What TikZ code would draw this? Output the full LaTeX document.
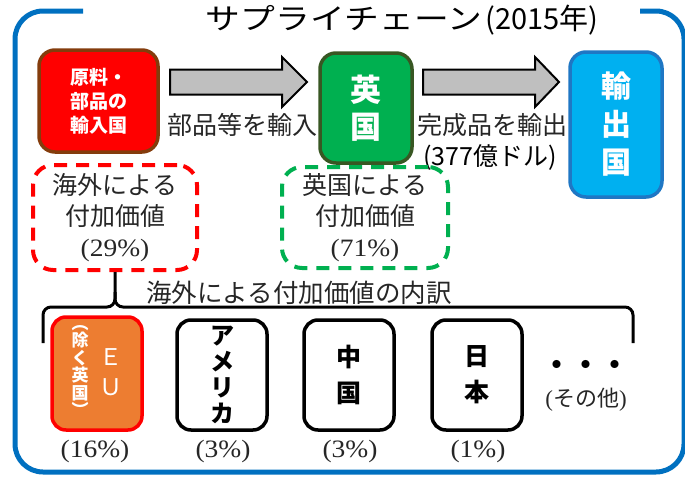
\documentclass[tikz,border=0pt]{standalone}
\usepackage{fontspec}
\usepackage{graphicx}
\newfontfamily\jp{Noto Sans CJK JP}
\newfontfamily\pcfont{Liberation Serif}
\usetikzlibrary{calc}
\definecolor{framec}{HTML}{0070C0}
\definecolor{redfill}{HTML}{FF0000}
\definecolor{brownbd}{HTML}{843C0C}
\definecolor{greenfill}{HTML}{00B050}
\definecolor{greenbd}{HTML}{385723}
\definecolor{bluefill}{HTML}{00B0F0}
\definecolor{bluebd}{HTML}{1F77C4}
\definecolor{arrgray}{HTML}{BFBFBF}
\definecolor{orangefill}{HTML}{ED7D31}
\definecolor{txtc}{HTML}{262626}
\newcommand\pctxt[1]{{\pcfont\fontsize{25}{31}\selectfont\scalebox{1.1}[1]{#1}}}
\begin{document}
\begin{tikzpicture}[x=1pt,y=-1pt,
  frame/.style={draw=framec,line width=5pt,rounded corners=28pt},
  topbox/.style={rectangle,rounded corners=16pt,line width=3.5pt,inner sep=0pt,align=center,text=white,font=\jp\bfseries},
  blockarr/.style={draw=black,fill=arrgray,line width=2pt,line join=miter},
  plainlbl/.style={inner sep=0pt,text=txtc,font=\jp\fontsize{25}{25}\selectfont},
  dashbox/.style={rectangle,rounded corners=20pt,line width=4pt,dash pattern=on 13pt off 9pt,inner sep=0pt,align=center,text=txtc,font=\jp\fontsize{25}{31}\selectfont},
  bracepath/.style={draw=black,line width=3pt,rounded corners=8pt},
  botbox/.style={rectangle,rounded corners=14pt,line width=3.5pt,inner sep=0pt,align=center,minimum width=90pt,minimum height=110pt},
  pctlbl/.style={inner sep=0pt,text=txtc}]
\useasboundingbox (0,0) rectangle (685,479);
% outer frame
\draw[frame] (83,11) -- (15,11) -- (15,472) -- (684,472) -- (684,11) -- (640,11);
% title
\node[plainlbl,text=black,font=\jp\fontsize{29}{29}\selectfont] (title) at (402,20) {\scalebox{1.2}[1]{サプライチェーン}\hspace{3pt}(2015年)};
% top boxes
\node[topbox,draw=brownbd,fill=redfill,minimum width=119pt,minimum height=102pt,font=\jp\bfseries\fontsize{19}{24}\selectfont] (src) at (98.5,101) {原料・\\部品の\\輸入国};
\node[topbox,draw=greenbd,fill=greenfill,minimum width=92pt,minimum height=110pt,font=\jp\bfseries\fontsize{31}{37}\selectfont] (uk) at (366,108) {英\\国};
\node[topbox,draw=bluebd,fill=bluefill,minimum width=92pt,minimum height=145pt,font=\jp\bfseries\fontsize{30}{38}\selectfont] (dst) at (616,124.5) {輸\\出\\国};
% block arrows
\coordinate (a1s) at (170,82);
\coordinate (a2s) at (423,82);
\draw[blockarr] (a1s) ++(0,-12.5) -- ++(112,0) -- ++(0,-12.5) -- ++(25,25) -- ++(-25,25) -- ++(0,-12.5) -- ++(-112,0) -- cycle;
\draw[blockarr] (a2s) ++(0,-12.5) -- ++(112,0) -- ++(0,-12.5) -- ++(24,25) -- ++(-24,25) -- ++(0,-12.5) -- ++(-112,0) -- cycle;
\node[plainlbl] (lbl1) at (242.5,125) {部品等を輸入};
\node[plainlbl] (lbl2) at (492,125) {完成品を輸出};
\node[plainlbl,text=black] (lbl3) at (490,157) {(377億ドル)};
% dashed boxes
\node[dashbox,draw=redfill,minimum width=164pt,minimum height=105pt] (fva) at (115,217.5) {海外による\\付加価値\\\pctxt{(29\%)}};
\node[dashbox,draw=greenfill,minimum width=166pt,minimum height=101pt] (dva) at (365,217.5) {英国による\\付加価値\\\pctxt{(71\%)}};
% brace
\coordinate (tip) at (fva.south);
\draw[bracepath] (43,343) -- (43,307) -- (tip |- 0,307) -- (tip);
\draw[bracepath] (633,343) -- (633,307) -- (tip |- 0,307) -- ($(tip)+(0,20)$);
\node[plainlbl,font=\jp\fontsize{25.5}{25.5}\selectfont] (bracelbl) at (299,293) {海外による付加価値の内訳};
% bottom boxes
\node[botbox,draw=redfill,fill=orangefill,minimum height=113pt] (eu) at (97,373.5) {};
\node[inner sep=0pt,align=center,text=white,font=\jp\bfseries\fontsize{17}{17.5}\selectfont] (eusub) at (80,371) {︵\\除\\く\\英\\国\\︶};
\node[inner sep=0pt,align=center,text=white,font=\jp\fontsize{23}{30}\selectfont] (eutxt) at (111,372) {Ｅ\\Ｕ};
\node[botbox,draw=black,fill=white,font=\jp\bfseries\fontsize{24}{26}\selectfont] (us) at (222,375) {ア\\メ\\リ\\カ};
\node[botbox,draw=black,fill=white,font=\jp\bfseries\fontsize{25}{36}\selectfont] (cn) at (349,375) {中\\国};
\node[botbox,draw=black,fill=white,font=\jp\bfseries\fontsize{25}{36}\selectfont] (jpn) at (477,375) {日\\本};
\node[inner sep=0pt,font=\jp\bfseries\fontsize{29}{29}\selectfont] (dots) at (586,368) {・・・};
\node[inner sep=0pt,text=txtc,font=\jp\fontsize{22}{22}\selectfont] (other) at (586,400) {{\pcfont\fontsize{23}{22}\selectfont(}その他{\pcfont\fontsize{23}{22}\selectfont)}};
% percentages
\node[pctlbl] (p1) at (95,451) {\pctxt{(16\%)}};
\node[pctlbl] (p2) at (223,451) {\pctxt{(3\%)}};
\node[pctlbl] (p3) at (350,451) {\pctxt{(3\%)}};
\node[pctlbl] (p4) at (478,451) {\pctxt{(1\%)}};
\end{tikzpicture}
\end{document}
